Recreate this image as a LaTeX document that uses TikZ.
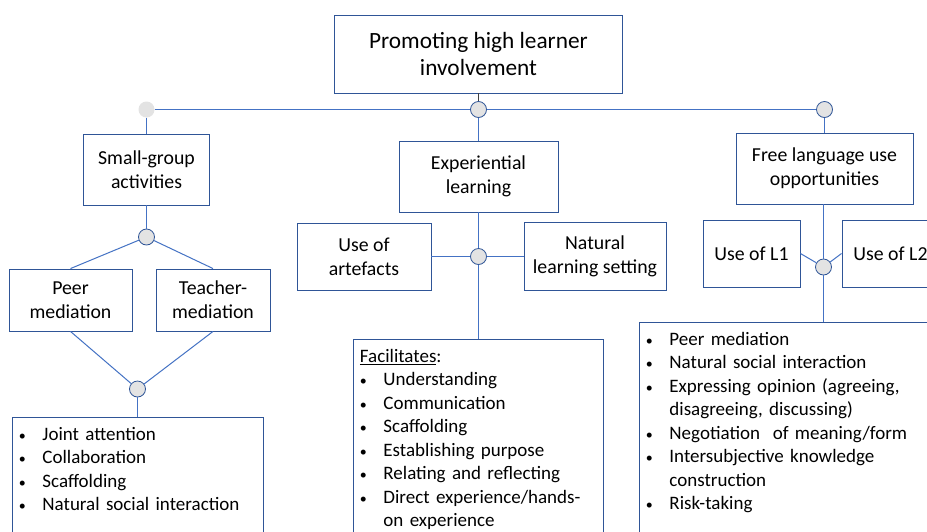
\documentclass[tikz,border=0pt]{standalone}
\usepackage{fontspec}
\setmainfont{Carlito}
\definecolor{boxc}{HTML}{2F5597}
\definecolor{linec}{HTML}{4472C4}
\definecolor{dotf}{HTML}{E3E3E3}
\definecolor{topl}{HTML}{404040}
\newcommand\bul{\makebox[23.5pt][l]{\raisebox{0.3pt}{\fontsize{14}{14}\selectfont •}}}
\newcommand\hang{\hspace*{23.5pt}}
\newcommand\firstl{\rule{0pt}{23pt}}
\newcommand\tailrule{\rule[-150pt]{0pt}{150pt}}
\begin{document}
\begin{tikzpicture}[x=1pt,y=-1pt,
  box/.style={draw=boxc, line width=0.9pt, align=center, inner sep=0pt,
    font=\fontsize{19.8}{24}\selectfont},
  listbox/.style={draw=boxc, line width=0.9pt, anchor=north west, align=left,
    inner xsep=6.5pt, inner ysep=0pt, font=\fontsize{19}{23.5}\selectfont},
  dot/.style={circle, draw=boxc, fill=dotf, line width=0.8pt, minimum size=16pt, inner sep=0pt},
  fadedot/.style={circle, fill=dotf, minimum size=16pt, inner sep=0pt},
  conn/.style={draw=linec, line width=1pt}]
\useasboundingbox (0,0) rectangle (927,531);
\clip (0,0) rectangle (927,531);
\fill[white] (0,0) rectangle (927,531);

% boxes
\node[box, minimum width=288pt, minimum height=78pt, font=\fontsize{23.3}{27}\selectfont] (top) at (478.5,54) {Promoting high learner\\involvement};
\node[box, minimum width=126pt, minimum height=71pt] (sg) at (146.5,169.5) {Small-group\\activities};
\node[box, minimum width=159pt, minimum height=71pt] (exp) at (478.5,176.5) {Experiential\\learning};
\node[box, minimum width=177pt, minimum height=71pt] (free) at (824.5,168.5) {Free language use\\opportunities};
\node[box, minimum width=123pt, minimum height=62pt] (peer) at (70.5,300) {Peer\\mediation};
\node[box, minimum width=114pt, minimum height=62pt] (teach) at (213,300) {Teacher-\\mediation};
\node[box, minimum width=134pt, minimum height=67pt] (artef) at (364,256.5) {Use of\\artefacts};
\node[box, minimum width=142pt, minimum height=68pt] (nat) at (595,256.5) {Natural\\learning setting};
\node[box, minimum width=97pt, minimum height=67pt] (l1) at (751.5,253.5) {Use of L1};
\node[box, minimum width=97pt, minimum height=67pt] (l2) at (890.5,253.5) {Use of L2};

% list boxes
\node[listbox, text width=238pt] (list1) at (12,417) {\firstl\bul Joint attention\\
\bul Collaboration\\
\bul Scaffolding\\
\bul Natural social interaction\tailrule};
\node[listbox, text width=237pt] (fac) at (353,339) {\firstl\underline{Facilitates}:\\
\bul Understanding\\
\bul Communication\\
\bul Scaffolding\\
\bul Establishing purpose\\
\bul Relating and reflecting\\
\bul Direct experience/hands-\\
\hang on experience\tailrule};
\node[listbox, text width=330pt] (list3) at (639,322) {\firstl\bul Peer mediation\\
\bul Natural social interaction\\
\bul Expressing opinion (agreeing,\\
\hang disagreeing, discussing)\\
\bul Negotiation~ of meaning/form\\
\bul Intersubjective knowledge\\
\hang construction\\
\bul Risk-taking\tailrule};

% junction dots
\node[fadedot] (c0) at (146.5,109.5) {};
\node[dot] (c1) at (478.5,109.5) {};
\node[dot] (c2) at (824.5,109.5) {};
\node[dot] (c3) at (146.5,237) {};
\node[dot] (c4) at (137.5,389) {};
\node[dot] (c5) at (478.5,256.5) {};
\node[dot] (c6) at (823.5,267) {};

% connectors
\draw[draw=topl, line width=0.9pt] (top.south) -- (c1);
\draw[conn] (c0) -- (c1);
\draw[conn] (c1) -- (c2);
\draw[conn] (c0) -- (sg.north);
\draw[conn] (c1) -- (exp.north);
\draw[conn] (c2) -- (c2 |- free.north);
\draw[conn] (sg.south) -- (c3);
\draw[conn] (c3) -- (peer.north);
\draw[conn] (c3) -- (teach.north);
\draw[conn] (peer.south) -- (c4);
\draw[conn] (teach.south) -- (c4);
\draw[conn] (c4) -- (c4 |- list1.north);
\draw[conn] (exp.south) -- (c5);
\draw[conn] (c5) -- (artef.east);
\draw[conn] (c5) -- (nat.west);
\draw[conn] (c5) -- (c5 |- fac.north);
\draw[conn] (c6 |- free.south) -- (c6);
\draw[conn] (c6) -- (l1.east);
\draw[conn] (c6) -- (l2.west);
\draw[conn] (c6) -- (c6 |- list3.north);
\end{tikzpicture}
\end{document}
